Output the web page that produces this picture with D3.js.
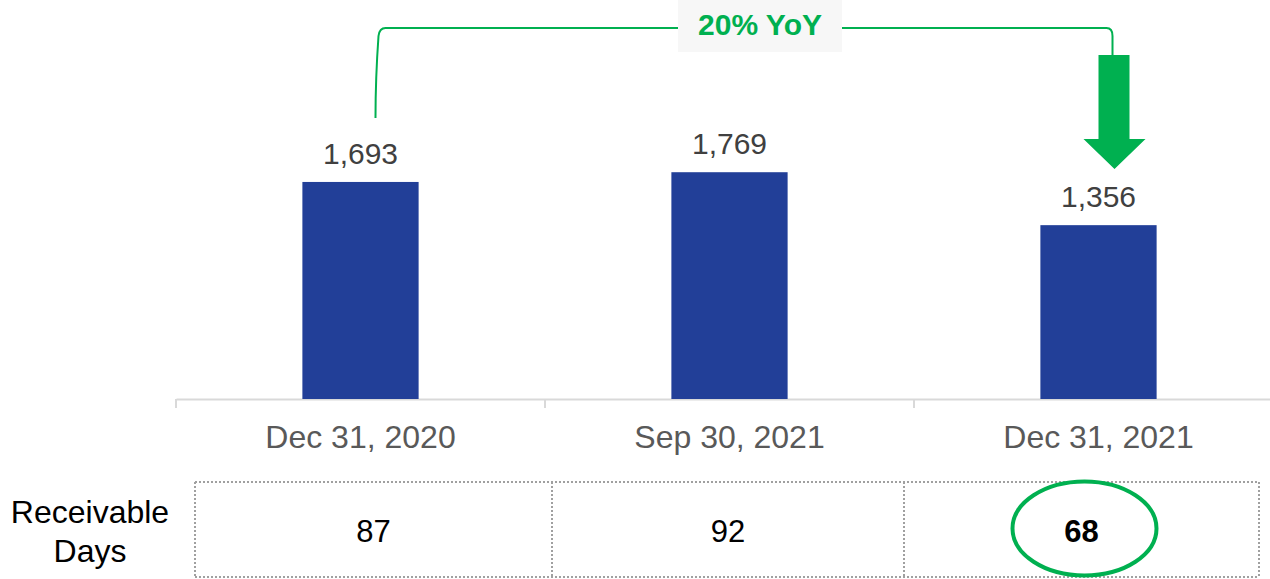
<!DOCTYPE html>
<html><head><meta charset="utf-8">
<script src="https://cdn.jsdelivr.net/npm/d3@7"></script>
<style>body{margin:0;background:#fff;}svg{display:block;font-family:"Liberation Sans",Arial,sans-serif;}</style>
</head><body>
<svg id="c" width="1270" height="579"></svg>
<script>
const categories = ["Dec 31, 2020", "Sep 30, 2021", "Dec 31, 2021"];
const values = [1693, 1769, 1356];
const receivableDays = [87, 92, 68];
const rowLabel = ["Receivable", "Days"];
const yoyLabel = "20% YoY";

const svg = d3.select("#c");
const x = d3.scaleBand().domain(categories).range([176, 1283]).paddingInner(0.685).paddingOuter(0.3425);
const y = d3.scaleLinear().domain([0, 2000]).range([399, 142.6]);
const green = "#00b050";

// axis
const axis = svg.append("g").attr("transform", "translate(0,399)")
  .call(d3.axisBottom(x).tickSize(0).tickPadding(0).tickFormat(""));
axis.select(".domain").attr("stroke", "#d9d9d9").attr("stroke-width", 2);
const edges = [176, 176 + 369, 176 + 738, 1283];
axis.selectAll(".sep").data(edges).join("line")
  .attr("x1", d => d).attr("x2", d => d).attr("y1", 0).attr("y2", 9)
  .attr("stroke", "#d9d9d9").attr("stroke-width", 2);
svg.append("g").selectAll("text").data(categories).join("text")
  .attr("x", d => x(d) + x.bandwidth() / 2).attr("y", 448)
  .attr("text-anchor", "middle").attr("font-size", 32).attr("fill", "#595959").text(d => d);

// bars
svg.append("g").selectAll("rect").data(values).join("rect")
  .attr("x", (d, i) => x(categories[i])).attr("width", x.bandwidth())
  .attr("y", d => y(d)).attr("height", d => y(0) - y(d)).attr("fill", "#223f98");
svg.append("g").selectAll("text").data(values).join("text")
  .attr("x", (d, i) => x(categories[i]) + x.bandwidth() / 2).attr("y", d => y(d) - 18)
  .attr("text-anchor", "middle").attr("font-size", 30).attr("fill", "#404040")
  .text(d => d3.format(",")(d));

// bracket
const cx0 = x(categories[0]) + x.bandwidth() / 2 + 15;
const cx2 = x(categories[2]) + x.bandwidth() / 2 + 14;
const topY = 28;
svg.append("path")
  .attr("d", `M${cx0},118 C${cx0},80 ${cx0 + 2},50 ${cx0 + 3},${topY + 8} Q${cx0 + 4},${topY} ${cx0 + 10},${topY} L${cx2 - 6},${topY} Q${cx2},${topY} ${cx2},${topY + 8} L${cx2},56`)
  .attr("fill", "none").attr("stroke", green).attr("stroke-width", 2);
svg.append("rect").attr("x", 678).attr("y", 0).attr("width", 164).attr("height", 52).attr("fill", "#f7f7f7");
svg.append("text").attr("x", 760).attr("y", 35).attr("text-anchor", "middle")
  .attr("font-size", 30).attr("font-weight", "bold").attr("fill", green).text(yoyLabel);

// arrow
const ax = cx2 + 2;
svg.append("path")
  .attr("d", `M${ax - 16},55 L${ax + 15},55 L${ax + 15},139 L${ax + 31},139 L${ax},169 L${ax - 31},139 L${ax - 16},139 Z`)
  .attr("fill", green);

// table
const cols = [195, 552, 904, 1259];
const tTop = 482, tBot = 577;
const tg = svg.append("g").attr("stroke", "#a0a0a0").attr("stroke-width", 2).attr("stroke-dasharray", "2,2");
tg.append("line").attr("x1", cols[0]).attr("x2", cols[3]).attr("y1", tTop).attr("y2", tTop);
tg.append("line").attr("x1", cols[0]).attr("x2", cols[3]).attr("y1", tBot).attr("y2", tBot);
tg.selectAll(".v").data(cols).join("line").attr("x1", d => d).attr("x2", d => d).attr("y1", tTop).attr("y2", tBot);

svg.append("g").selectAll("text").data(receivableDays).join("text")
  .attr("x", (d, i) => (cols[i] + cols[i + 1]) / 2).attr("y", 542)
  .attr("text-anchor", "middle").attr("font-size", 31)
  .attr("font-weight", (d, i) => i === 2 ? "bold" : "normal").attr("fill", "#000").text(d => d);

svg.append("text").attr("text-anchor", "middle").attr("font-size", 32).attr("fill", "#000")
  .selectAll("tspan").data(rowLabel).join("tspan")
  .attr("x", 90).attr("y", (d, i) => 523 + i * 39).text(d => d);

// highlight ellipse
svg.append("ellipse").attr("cx", 1084.5).attr("cy", 528.5).attr("rx", 72).attr("ry", 47)
  .attr("fill", "none").attr("stroke", green).attr("stroke-width", 4);
</script>
</body></html>
